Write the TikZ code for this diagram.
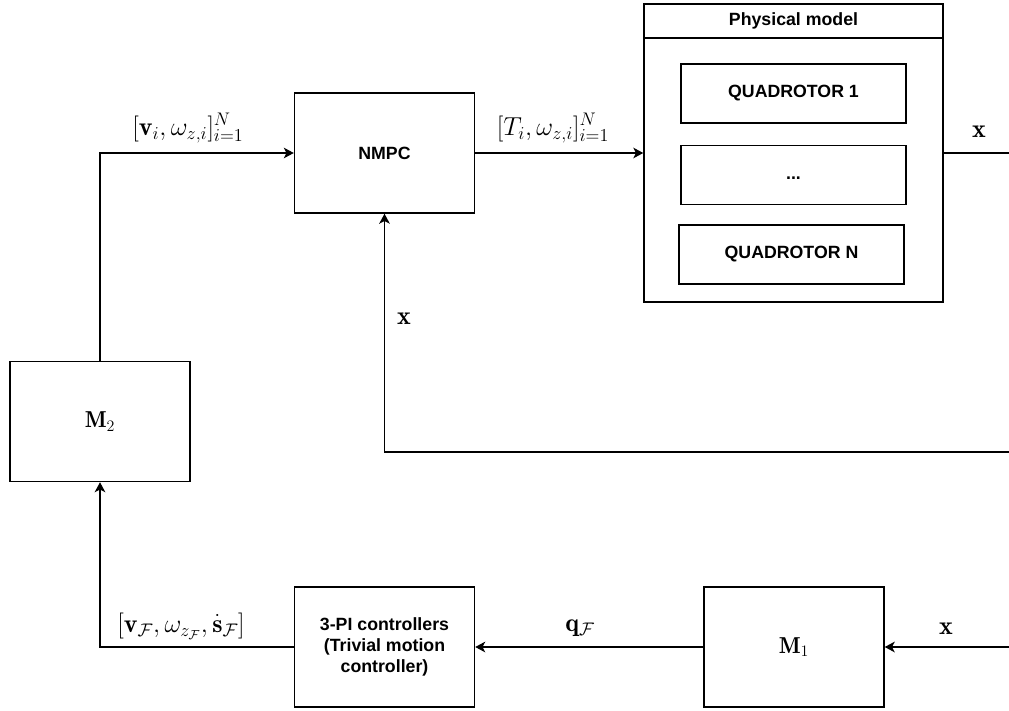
\RequirePackage{fix-cm}
\documentclass[tikz,border=0pt]{standalone}
\usepackage{fontspec}
\setsansfont{Liberation Sans}
\usetikzlibrary{arrows.meta}
\newcommand{\mathsz}{\fontsize{19.5}{23}\selectfont}
\newcommand{\blkmathsz}{\fontsize{17.28}{20}\selectfont}
\tikzset{
  px/.style={x=0.75pt,y=-0.75pt},
  blk/.style={draw,line width=1.1pt,minimum width=135pt,minimum height=90pt,inner sep=0pt,
              font=\sffamily\bfseries\fontsize{13.3}{15.6}\selectfont,align=center},
  sub/.style={draw,line width=1.1pt,minimum width=168.75pt,minimum height=44.25pt,inner sep=0pt,
              font=\sffamily\bfseries\fontsize{13.3}{15.6}\selectfont},
  lbl/.style={font=\mathsz,inner sep=0pt},
  wire/.style={line width=1.1pt,-{Stealth[length=7.5pt,width=8pt,inset=2pt]}},
  plain/.style={line width=1.1pt},
}
\begin{document}
\begin{tikzpicture}[px]
\useasboundingbox (0,0) rectangle (1009,710);
% blocks
\node[blk] (nmpc) at (384.5,153) {NMPC};
\node[blk] (m2) at (100,421.5) {\blkmathsz$\mathbf{M}_2$};
\node[blk] (pi) at (384.5,647) {3-PI controllers\\(Trivial motion\\controller)};
\node[blk] (m1) at (794,647) {\blkmathsz$\mathbf{M}_1$};
% physical model container
\node[draw,line width=1.1pt,minimum width=224.25pt,minimum height=223.5pt,inner sep=0pt] (phys) at (793.5,153) {};
\draw[plain] (644,38) -- (943,38);
\node[font=\sffamily\bfseries\fontsize{13.3}{15.6}\selectfont] (ptitle) at (793.5,21) {Physical model};
\node[sub] (q1) at (793.5,93.5) {QUADROTOR 1};
\node[sub] (qd) at (793.5,175) {\vphantom{Q}...};
\node[sub] (qn) at (791.5,254.5) {QUADROTOR N};
% coordinates at the edge
\coordinate (eout) at (1009,153);
\coordinate (efb) at (1009,452);
\coordinate (ein) at (1009,647);
% connectors
\draw[wire] (m2.north) |- (nmpc.west);
\draw[wire] (nmpc.east) -- (phys.west |- nmpc.east);
\draw[plain] (phys.east |- eout) -- (eout);
\draw[wire] (efb) -| (nmpc.south);
\draw[wire] (ein) -- (m1.east);
\draw[wire] (m1.west) -- (pi.east);
\draw[wire] (pi.west) -| (m2.south);
% labels
\node[lbl] (l1) at (188,128) {$[\mathbf{v}_i,\omega_{z,i}]_{i=1}^{N}$};
\node[lbl] (l2) at (553,128) {$[T_i,\omega_{z,i}]_{i=1}^{N}$};
\node[lbl] (l3) at (979,132) {$\mathbf{x}$};
\node[lbl] (l4) at (404,319) {$\mathbf{x}$};
\node[lbl] (l5) at (181,626) {$[\mathbf{v}_{\mathcal{F}},\omega_{z_{\mathcal{F}}},\dot{\mathbf{s}}_{\mathcal{F}}]$};
\node[lbl] (l6) at (580,628) {$\mathbf{q}_{\mathcal{F}}$};
\node[lbl] (l7) at (946,629) {$\mathbf{x}$};
\end{tikzpicture}
\end{document}
